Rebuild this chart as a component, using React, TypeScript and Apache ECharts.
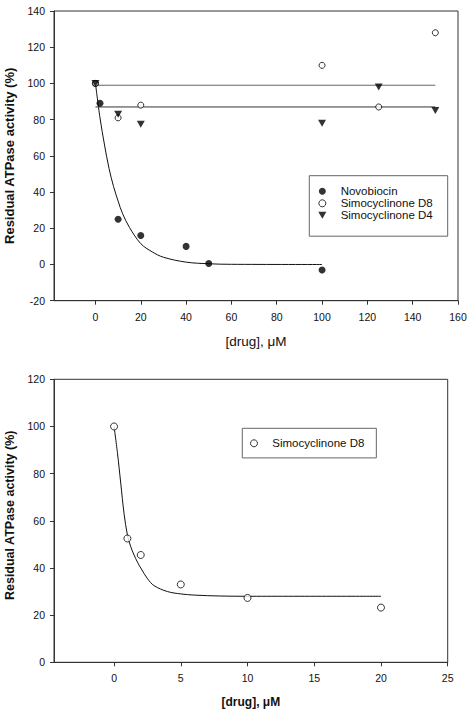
import React, { useEffect, useRef } from "react";
import * as echarts from "echarts";

// ---- Top panel data ----
const novobiocin: number[][] = [[0, 100], [2, 89], [10, 25], [20, 16], [40, 10], [50, 0.5], [100, -3]];
const simoD8: number[][] = [[0, 100], [10, 81], [20, 88], [100, 110], [125, 87], [150, 128]];
const simoD4: number[][] = [[0, 100], [10, 83], [20, 77.5], [100, 78], [125, 98], [150, 85]];
const novoFit: number[][] = [
  [0, 100], [2, 81], [4, 66], [6, 53], [8, 43], [10, 35], [12, 28], [15, 20.5],
  [20, 11.5], [25, 7], [30, 4], [40, 1.3], [50, 0.4], [60, 0.1], [100, 0],
];
const d8Fit: number[][] = [[0, 99], [150, 99]];
const d4Fit: number[][] = [[0, 87], [150, 87]];
const topXTicks = [0, 20, 40, 60, 80, 100, 120, 140, 160];

// ---- Bottom panel data ----
const d8Dose: number[][] = [[0, 100], [1, 52.5], [2, 45.5], [5, 33], [10, 27.3], [20, 23.2]];
const d8DoseFit: number[][] = [
  [0, 100], [0.25, 89], [0.5, 76], [0.75, 63], [1, 54], [1.25, 49], [1.5, 45.5], [1.75, 42.5],
  [2, 40], [2.5, 35.5], [3, 32.5], [4, 30], [5, 29], [6, 28.5], [8, 28.1], [10, 28], [20, 28],
];
const bottomXTicks = [0, 5, 10, 15, 20, 25];

const legendNames = ["Novobiocin", "Simocyclinone D8", "Simocyclinone D4"];

const FONT = "'Liberation Sans', Arial, sans-serif";
const TXT = "#111";
const AX = "#333";
const TRI = "path://M0,0L10,0L5,8.66Z";

const openCircle = { color: "#fff", borderColor: "#000", borderWidth: 1 };

function xAxisBase(extra: any) {
  return {
    type: "value",
    splitLine: { show: false },
    axisLine: { show: true, onZero: false, lineStyle: { color: AX, width: 1 } },
    axisTick: { show: true, inside: false, length: 4, lineStyle: { color: AX } },
    axisLabel: { color: TXT, fontFamily: FONT, fontSize: 10.5 },
    nameLocation: "middle",
    ...extra,
  };
}

function yAxisBase(extra: any) {
  return {
    type: "value",
    splitLine: { show: false },
    axisLine: { show: true, onZero: false, lineStyle: { color: AX, width: 1 } },
    axisTick: { show: true, inside: false, length: 4, lineStyle: { color: AX } },
    axisLabel: { color: TXT, fontFamily: FONT, fontSize: 10.5, margin: 9 },
    nameLocation: "middle",
    nameRotate: 90,
    ...extra,
  };
}

const legendCommon = {
  orient: "vertical",
  itemWidth: 26.6,
  itemHeight: 7,
  itemGap: 0,
  borderColor: "#666",
  borderWidth: 1,
  backgroundColor: "#fff",
  itemStyle: { borderWidth: 1 },
  textStyle: { color: TXT, fontFamily: FONT, fontSize: 11.5, lineHeight: 11.4 },
  selectedMode: false,
};

const option: any = {
  animation: false,
  backgroundColor: "#fff",
  textStyle: { fontFamily: FONT },
  grid: [
    { left: 54, top: 11, width: 404, height: 289.7, show: true, borderColor: AX, borderWidth: 1, containLabel: false, outerBoundsMode: "none" },
    { left: 54, top: 379.3, width: 393.7, height: 283, show: true, borderColor: AX, borderWidth: 1, containLabel: false, outerBoundsMode: "none" },
  ],
  xAxis: [
    xAxisBase({
      gridIndex: 0,
      min: -18.3,
      max: 160,
      axisTick: { show: true, inside: false, length: 4, lineStyle: { color: AX }, customValues: topXTicks },
      axisLabel: { color: TXT, fontFamily: FONT, fontSize: 10.5, margin: 11, customValues: topXTicks },
      name: "[drug], μM",
      nameGap: 34,
      nameTextStyle: { color: TXT, fontFamily: FONT, fontSize: 13.5, fontWeight: "normal" },
    }),
    xAxisBase({
      gridIndex: 1,
      min: -4.5,
      max: 25,
      axisTick: { show: true, inside: false, length: 4, lineStyle: { color: AX }, customValues: bottomXTicks },
      axisLabel: { color: TXT, fontFamily: FONT, fontSize: 10.5, margin: 10.5, customValues: bottomXTicks },
      name: "[drug], μM",
      nameGap: 34,
      nameTextStyle: { color: TXT, fontFamily: FONT, fontSize: 12, fontWeight: "bold" },
    }),
  ],
  yAxis: [
    yAxisBase({
      gridIndex: 0,
      min: -20,
      max: 140,
      interval: 20,
      name: "Residual ATPase activity (%)",
      nameGap: 38,
      nameTextStyle: { color: TXT, fontFamily: FONT, fontSize: 13, fontWeight: "bold" },
    }),
    yAxisBase({
      gridIndex: 1,
      min: 0,
      max: 120,
      interval: 20,
      name: "Residual ATPase activity (%)",
      nameGap: 38,
      nameTextStyle: { color: TXT, fontFamily: FONT, fontSize: 12.5, fontWeight: "bold", padding: [0, 0, 0, 11] },
    }),
  ],
  legend: [
    {
      ...legendCommon,
      data: legendNames,
      left: 309.3,
      top: 175.7,
      padding: [9.6, 15, 14.9, 9],
    },
    {
      ...legendCommon,
      data: ["Simocyclinone D8 "],
      left: 242.3,
      top: 428.3,
      padding: [9, 12, 8.6, 7.7],
      formatter: (n: string) => n.trim(),
    },
  ],
  series: [
    // Top panel fit lines
    {
      name: "Novobiocin fit",
      type: "line",
      xAxisIndex: 0,
      yAxisIndex: 0,
      data: novoFit,
      smooth: 0.35,
      showSymbol: false,
      lineStyle: { color: "#111", width: 1 },
      z: 1,
      silent: true,
    },
    {
      name: "D8 fit",
      type: "line",
      xAxisIndex: 0,
      yAxisIndex: 0,
      data: d8Fit,
      showSymbol: false,
      lineStyle: { color: "#666", width: 1 },
      z: 1,
      silent: true,
    },
    {
      name: "D4 fit",
      type: "line",
      xAxisIndex: 0,
      yAxisIndex: 0,
      data: d4Fit,
      showSymbol: false,
      lineStyle: { color: "#333", width: 1 },
      z: 1,
      silent: true,
    },
    // Top panel points
    {
      name: "Novobiocin",
      type: "scatter",
      xAxisIndex: 0,
      yAxisIndex: 0,
      data: novobiocin,
      symbol: "circle",
      symbolSize: 7,
      itemStyle: { color: "#000" },
      z: 3,
    },
    {
      name: "Simocyclinone D8",
      type: "scatter",
      xAxisIndex: 0,
      yAxisIndex: 0,
      data: simoD8,
      symbol: "circle",
      symbolSize: 6,
      itemStyle: openCircle,
      z: 3,
    },
    {
      name: "Simocyclinone D4",
      type: "scatter",
      xAxisIndex: 0,
      yAxisIndex: 0,
      data: simoD4,
      symbol: TRI,
      symbolSize: [8, 7],
      itemStyle: { color: "#000" },
      z: 4,
    },
    // Bottom panel
    {
      name: "D8 dose fit",
      type: "line",
      xAxisIndex: 1,
      yAxisIndex: 1,
      data: d8DoseFit,
      smooth: 0.35,
      showSymbol: false,
      lineStyle: { color: "#111", width: 1 },
      z: 1,
      silent: true,
    },
    {
      name: "Simocyclinone D8 ",
      type: "scatter",
      xAxisIndex: 1,
      yAxisIndex: 1,
      data: d8Dose,
      symbol: "circle",
      symbolSize: 7,
      itemStyle: openCircle,
      z: 3,
    },
  ],
};

export default function App() {
  const ref = useRef<HTMLDivElement>(null);
  useEffect(() => {
    const chart = echarts.init(ref.current!, null, { renderer: "svg" });
    chart.setOption(option);
    return () => chart.dispose();
  }, []);
  return (
    <div
      ref={ref}
      style={{ position: "fixed", left: 0, top: 0, width: 470, height: 712, background: "#fff" }}
    />
  );
}
